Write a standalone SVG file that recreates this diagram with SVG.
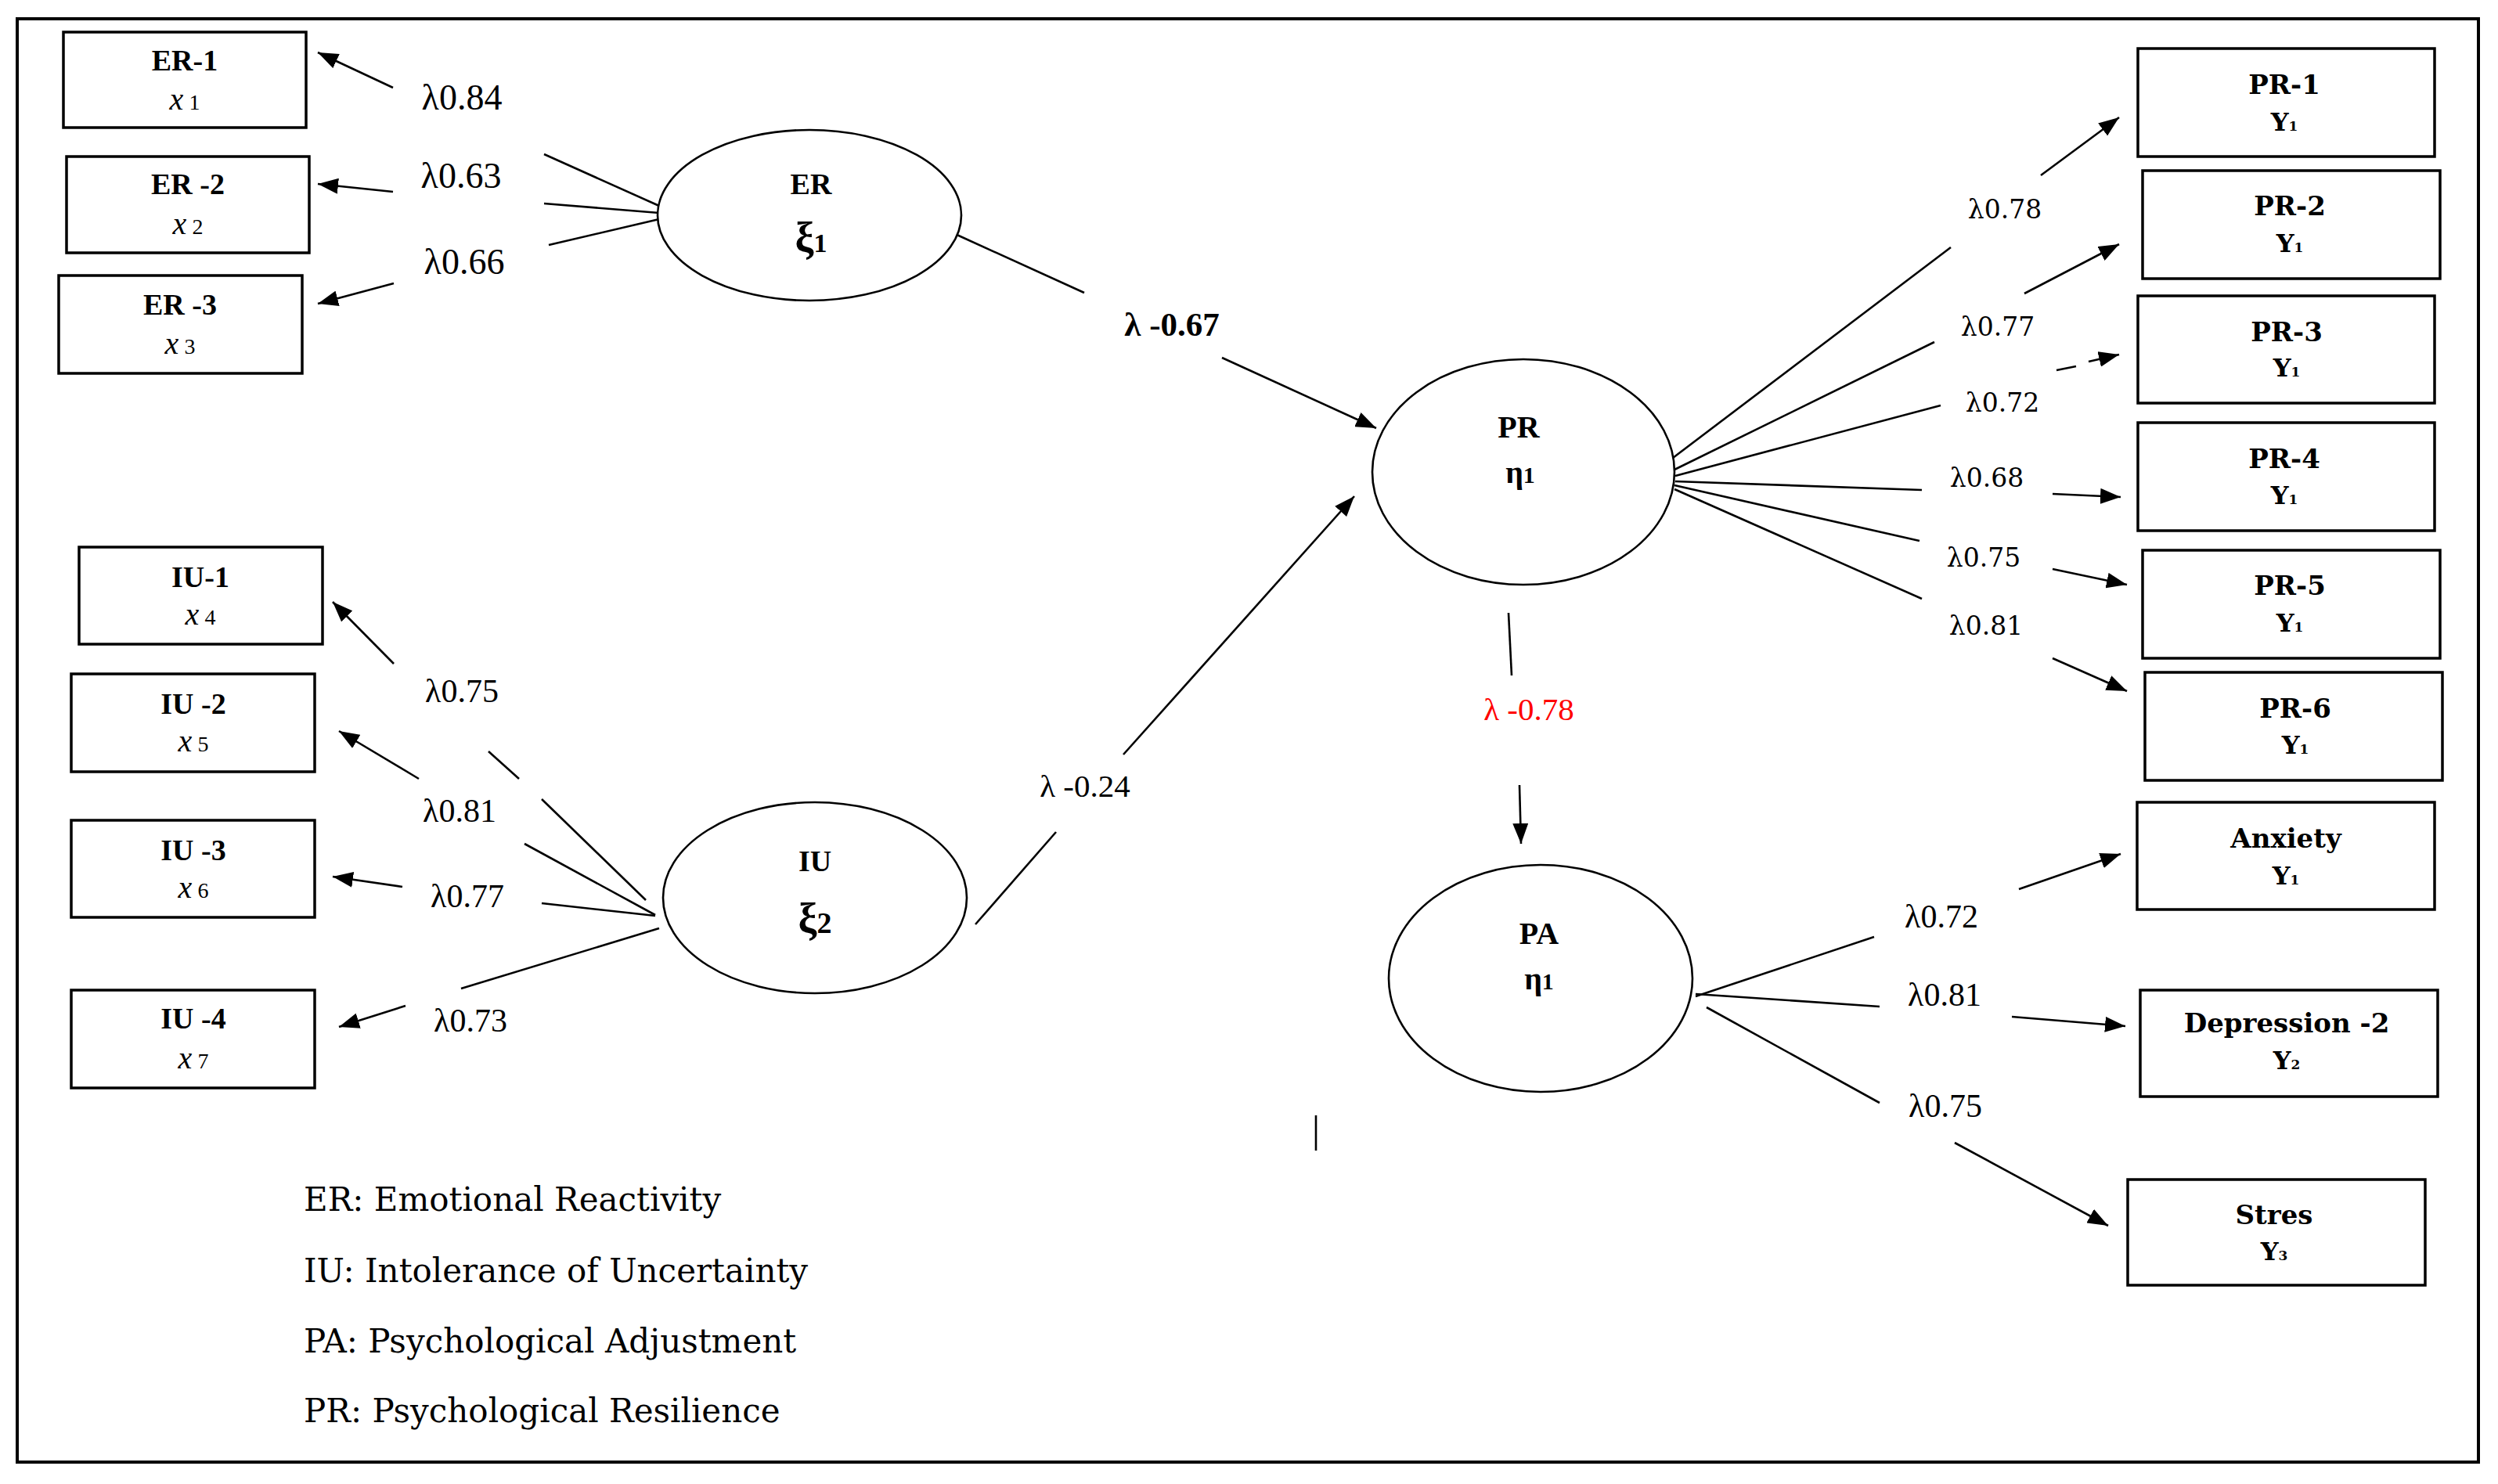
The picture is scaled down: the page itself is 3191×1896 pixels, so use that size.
<svg xmlns="http://www.w3.org/2000/svg" width="3191" height="1896" viewBox="0 0 3191 1896">
<style>
.box{fill:#fff;stroke:#000;stroke-width:3.5}
.ell{fill:#fff;stroke:#000;stroke-width:2.6}
.ln{stroke:#000;stroke-width:2.6;fill:none}
.ar{marker-end:url(#ah)}
.t{font-family:"Liberation Serif","Times New Roman",serif;fill:#000}
.b{font-weight:bold}
.dj{font-family:"DejaVu Serif",serif;fill:#000}
.lab{font-size:46px}
.labi{font-size:42px}
.labr{font-size:33px}
.mid{text-anchor:middle}
</style>
<defs>
<marker id="ah" viewBox="0 0 26 20" refX="26" refY="10" markerWidth="26" markerHeight="20" markerUnits="userSpaceOnUse" orient="auto">
<path d="M0,0 L26,10 L0,20 z" fill="#000"/>
</marker>
</defs>
<rect width="3191" height="1896" fill="#fff"/>
<rect x="22" y="24" width="3144" height="1844" fill="none" stroke="#000" stroke-width="4"/>

<g id="connectors">
<line class="ln" x1="695" y1="197" x2="842" y2="263"/>
<line class="ln" x1="695" y1="260" x2="842" y2="272"/>
<line class="ln" x1="701" y1="313" x2="842" y2="280"/>
<line class="ln ar" x1="502" y1="112" x2="406" y2="67"/>
<line class="ln ar" x1="502" y1="245" x2="406" y2="235"/>
<line class="ln ar" x1="503" y1="362" x2="406" y2="388"/>
<line class="ln" x1="692" y1="1021" x2="825" y2="1150"/>
<line class="ln" x1="624" y1="960" x2="663" y2="995"/>
<line class="ln" x1="670" y1="1078" x2="837" y2="1169"/>
<line class="ln" x1="692" y1="1154" x2="837" y2="1170"/>
<line class="ln" x1="589" y1="1263" x2="842" y2="1186"/>
<line class="ln ar" x1="503" y1="848" x2="425" y2="769"/>
<line class="ln ar" x1="535" y1="995" x2="433" y2="934"/>
<line class="ln ar" x1="514" y1="1133" x2="425" y2="1120"/>
<line class="ln ar" x1="518" y1="1285" x2="433" y2="1312"/>
<line class="ln" x1="1218" y1="298" x2="1385" y2="374"/>
<line class="ln ar" x1="1561" y1="457" x2="1758" y2="547"/>
<line class="ln" x1="1246" y1="1181" x2="1349" y2="1063"/>
<line class="ln ar" x1="1435" y1="964" x2="1730" y2="634"/>
<line class="ln" x1="1927" y1="783" x2="1931" y2="863"/>
<line class="ln ar" x1="1941" y1="1003" x2="1943" y2="1078"/>
<line class="ln" x1="2137" y1="585" x2="2492" y2="316"/>
<line class="ln" x1="2139" y1="600" x2="2471" y2="437"/>
<line class="ln" x1="2140" y1="608" x2="2479" y2="518"/>
<line class="ln" x1="2140" y1="615" x2="2455" y2="626"/>
<line class="ln" x1="2139" y1="620" x2="2452" y2="691"/>
<line class="ln" x1="2139" y1="625" x2="2455" y2="765"/>
<line class="ln ar" x1="2607" y1="224" x2="2707" y2="150"/>
<line class="ln ar" x1="2586" y1="375" x2="2707" y2="312"/>
<line class="ln" x1="2627" y1="473" x2="2652" y2="468"/>
<line class="ln ar" x1="2668" y1="462" x2="2707" y2="453"/>
<line class="ln ar" x1="2622" y1="631" x2="2709" y2="635"/>
<line class="ln ar" x1="2622" y1="727" x2="2717" y2="747"/>
<line class="ln ar" x1="2622" y1="841" x2="2717" y2="883"/>
<line class="ln" x1="2166" y1="1273" x2="2394" y2="1197"/>
<line class="ln" x1="2166" y1="1270" x2="2401" y2="1286"/>
<line class="ln" x1="2180" y1="1287" x2="2401" y2="1409"/>
<line class="ln ar" x1="2579" y1="1136" x2="2709" y2="1091"/>
<line class="ln ar" x1="2570" y1="1299" x2="2715" y2="1311"/>
<line class="ln ar" x1="2497" y1="1460" x2="2693" y2="1566"/>
<line class="ln" x1="1681" y1="1425" x2="1681" y2="1470"/>
</g>

<g id="labels">
<text class="t lab mid" x="590" y="140">λ0.84</text>
<text class="t lab mid" x="589" y="240">λ0.63</text>
<text class="t lab mid" x="593" y="350">λ0.66</text>
<text class="t labi mid" x="590" y="897">λ0.75</text>
<text class="t labi mid" x="587" y="1050">λ0.81</text>
<text class="t labi mid" x="597" y="1159">λ0.77</text>
<text class="t labi mid" x="601" y="1318">λ0.73</text>
<text class="t b mid" x="1497" y="429" font-size="43">λ -0.67</text>
<text class="t mid" x="1386" y="1018" font-size="41">λ -0.24</text>
<text class="t mid" x="1953" y="920" font-size="41" style="fill:#ff0000">λ -0.78</text>
<text class="dj labr mid" x="2561" y="279">λ0.78</text>
<text class="dj labr mid" x="2552" y="429">λ0.77</text>
<text class="dj labr mid" x="2558" y="526">λ0.72</text>
<text class="dj labr mid" x="2538" y="622">λ0.68</text>
<text class="dj labr mid" x="2534" y="724">λ0.75</text>
<text class="dj labr mid" x="2537" y="811">λ0.81</text>
<text class="t labi mid" x="2480" y="1185">λ0.72</text>
<text class="t labi mid" x="2484" y="1285">λ0.81</text>
<text class="t labi mid" x="2485" y="1427">λ0.75</text>
</g>

<g id="ER-1">
<rect class="box" x="81" y="41" width="310" height="122"/>
<text class="t b mid" x="236" y="90" font-size="38">ER-1</text>
<text class="t mid" x="236" y="140" font-size="40"><tspan font-style="italic">x</tspan><tspan font-size="28"> 1</tspan></text>
</g>
<g id="ER-2">
<rect class="box" x="85" y="200" width="310" height="123"/>
<text class="t b mid" x="240" y="248" font-size="38">ER -2</text>
<text class="t mid" x="240" y="299" font-size="40"><tspan font-style="italic">x</tspan><tspan font-size="28"> 2</tspan></text>
</g>
<g id="ER-3">
<rect class="box" x="75" y="352" width="311" height="125"/>
<text class="t b mid" x="230" y="402" font-size="38">ER -3</text>
<text class="t mid" x="230" y="452" font-size="40"><tspan font-style="italic">x</tspan><tspan font-size="28"> 3</tspan></text>
</g>
<g id="IU-1">
<rect class="box" x="101" y="699" width="311" height="124"/>
<text class="t b mid" x="256" y="750" font-size="38">IU-1</text>
<text class="t mid" x="256" y="798" font-size="40"><tspan font-style="italic">x</tspan><tspan font-size="28"> 4</tspan></text>
</g>
<g id="IU-2">
<rect class="box" x="91" y="861" width="311" height="125"/>
<text class="t b mid" x="247" y="912" font-size="38">IU -2</text>
<text class="t mid" x="247" y="960" font-size="40"><tspan font-style="italic">x</tspan><tspan font-size="28"> 5</tspan></text>
</g>
<g id="IU-3">
<rect class="box" x="91" y="1048" width="311" height="124"/>
<text class="t b mid" x="247" y="1099" font-size="38">IU -3</text>
<text class="t mid" x="247" y="1147" font-size="40"><tspan font-style="italic">x</tspan><tspan font-size="28"> 6</tspan></text>
</g>
<g id="IU-4">
<rect class="box" x="91" y="1265" width="311" height="125"/>
<text class="t b mid" x="247" y="1314" font-size="38">IU -4</text>
<text class="t mid" x="247" y="1365" font-size="40"><tspan font-style="italic">x</tspan><tspan font-size="28"> 7</tspan></text>
</g>

<g id="ER">
<ellipse class="ell" cx="1034" cy="275" rx="194" ry="109"/>
<text class="t b mid" x="1036" y="248" font-size="38">ER</text>
<text class="t b mid" x="1036" y="322" font-size="54">ξ<tspan font-size="34">1</tspan></text>
</g>
<g id="IU">
<ellipse class="ell" cx="1041" cy="1147" rx="194" ry="122"/>
<text class="t b mid" x="1041" y="1113" font-size="38">IU</text>
<text class="t b mid" x="1041" y="1192" font-size="54">ξ<tspan font-size="38">2</tspan></text>
</g>
<g id="PR">
<ellipse class="ell" cx="1946" cy="603" rx="193" ry="144"/>
<text class="t b mid" x="1940" y="559" font-size="40">PR</text>
<text class="t b mid" x="1942" y="617" font-size="40">η<tspan font-size="30">1</tspan></text>
</g>
<g id="PA">
<ellipse class="ell" cx="1968" cy="1250" rx="194" ry="145"/>
<text class="t b mid" x="1966" y="1206" font-size="40">PA</text>
<text class="t b mid" x="1966" y="1264" font-size="40">η<tspan font-size="30">1</tspan></text>
</g>

<g id="PR-1">
<rect class="box" x="2731" y="62" width="379" height="138"/>
<text class="dj b mid" x="2918" y="120" font-size="34">PR-1</text>
<text class="dj b mid" x="2918" y="167" font-size="32">Y<tspan font-size="17">1</tspan></text>
</g>
<g id="PR-2">
<rect class="box" x="2737" y="218" width="380" height="138"/>
<text class="dj b mid" x="2925" y="275" font-size="34">PR-2</text>
<text class="dj b mid" x="2925" y="322" font-size="32">Y<tspan font-size="17">1</tspan></text>
</g>
<g id="PR-3">
<rect class="box" x="2731" y="378" width="379" height="137"/>
<text class="dj b mid" x="2921" y="436" font-size="34">PR-3</text>
<text class="dj b mid" x="2921" y="481" font-size="32">Y<tspan font-size="17">1</tspan></text>
</g>
<g id="PR-4">
<rect class="box" x="2731" y="540" width="379" height="138"/>
<text class="dj b mid" x="2918" y="598" font-size="34">PR-4</text>
<text class="dj b mid" x="2918" y="644" font-size="32">Y<tspan font-size="17">1</tspan></text>
</g>
<g id="PR-5">
<rect class="box" x="2737" y="703" width="380" height="138"/>
<text class="dj b mid" x="2925" y="760" font-size="34">PR-5</text>
<text class="dj b mid" x="2925" y="807" font-size="32">Y<tspan font-size="17">1</tspan></text>
</g>
<g id="PR-6">
<rect class="box" x="2740" y="859" width="380" height="138"/>
<text class="dj b mid" x="2932" y="917" font-size="34">PR-6</text>
<text class="dj b mid" x="2932" y="963" font-size="32">Y<tspan font-size="17">1</tspan></text>
</g>
<g id="Anxiety">
<rect class="box" x="2730" y="1025" width="380" height="137"/>
<text class="dj b mid" x="2920" y="1083" font-size="34">Anxiety</text>
<text class="dj b mid" x="2920" y="1130" font-size="32">Y<tspan font-size="17">1</tspan></text>
</g>
<g id="Depression">
<rect class="box" x="2734" y="1265" width="380" height="136"/>
<text class="dj b mid" x="2921" y="1319" font-size="34">Depression -2</text>
<text class="dj b mid" x="2921" y="1366" font-size="32">Y<tspan font-size="17">2</tspan></text>
</g>
<g id="Stres">
<rect class="box" x="2718" y="1507" width="380" height="135"/>
<text class="dj b mid" x="2905" y="1564" font-size="34">Stres</text>
<text class="dj b mid" x="2905" y="1610" font-size="32">Y<tspan font-size="17">3</tspan></text>
</g>

<g id="legend">
<text class="dj" x="388" y="1547" font-size="42">ER: Emotional Reactivity</text>
<text class="dj" x="388" y="1638" font-size="42">IU: Intolerance of Uncertainty</text>
<text class="dj" x="388" y="1728" font-size="42">PA: Psychological Adjustment</text>
<text class="dj" x="388" y="1817" font-size="42">PR: Psychological Resilience</text>
</g>
</svg>
